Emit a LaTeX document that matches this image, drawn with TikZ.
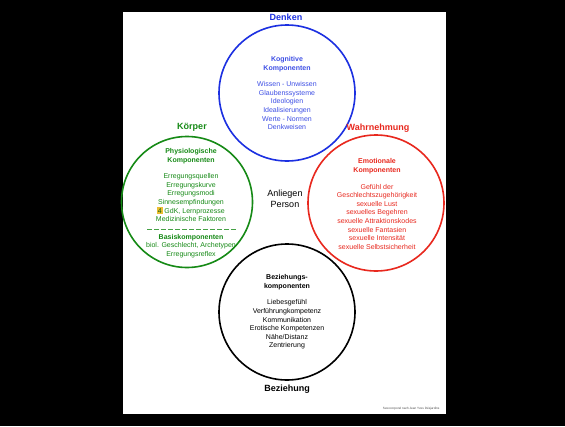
\documentclass[tikz,border=0pt]{standalone}
\usepackage{fontspec}
\setmainfont{Liberation Sans}
\usetikzlibrary{positioning}
\definecolor{denkblau}{RGB}{28,48,225}
\definecolor{koerpergruen}{RGB}{22,138,22}
\definecolor{wahrrot}{RGB}{232,40,30}
\definecolor{markgelb}{RGB}{236,190,50}
\tikzstyle{bereich} = [circle, 
minimum size=136pt, 
line width=1.6pt, 
draw]
\tikzstyle{inhalt} = [align=center, 
font=\fontsize{7}{8.6}\selectfont]
\tikzstyle{titel} = [font=\fontsize{9}{11}\selectfont\bfseries]

\begin{document}
\begin{tikzpicture}[x=1pt, y=-1pt]
            \fill[black] (0,0) rectangle (565,426);
            \fill[white] (123,12) rectangle (446,414);
            \useasboundingbox (0,0) rectangle (565,426);

            \node (denken) [bereich, draw=denkblau] at (287,93) {};
            \node (koerper) [bereich, draw=koerpergruen, minimum size=131pt] at (187,202) {};
            \node (wahrnehmung) [bereich, draw=wahrrot] at (376,203) {};
            \node (beziehung) [bereich, draw=black] at (287,312) {};

            \node (tdenken) [titel, text=denkblau] at (286,17) {Denken};
            \node (tkoerper) [titel, text=koerpergruen] at (192,127) {Körper};
            \node (twahr) [titel, text=wahrrot] at (378,128) {Wahrnehmung};
            \node (tbez) [titel, text=black] at (287,389) {Beziehung};

            \node (idenken) [inhalt, text=denkblau!85!white] at (denken) {\textbf{Kognitive}\\ \textbf{Komponenten}\\[8pt]
                Wissen - Unwissen\\ Glaubenssysteme\\ Ideologien\\ Idealisierungen\\ Werte - Normen\\ Denkweisen};
            \node (ikoerper) [inhalt, text=koerpergruen] at (191,185) {\textbf{Physiologische}\\ \textbf{Komponenten}\\[8pt]
                Erregungsquellen\\ Erregungskurve\\ Erregungsmodi\\ Sinnesempfindungen\\
                {\setlength{\fboxsep}{0.7pt}\colorbox{markgelb}{\textcolor{koerpergruen!70!black}{4}}} GdK, Lernprozesse\\ Medizinische Faktoren};
            \node (ibasis) [inhalt, text=koerpergruen] at (191,246) {\textbf{Basiskomponenten}\\ biol. Geschlecht, Archetypen\\ Erregungsreflex};
            \draw [koerpergruen!80!white, line width=0.6pt, dash pattern=on 4.5pt off 2.5pt] (147,229) -- (238,229);
            \node (iwahr) [inhalt, text=wahrrot] at (377,204) {\textbf{Emotionale}\\ \textbf{Komponenten}\\[8pt]
                Gefühl der\\ Geschlechtszugehörigkeit\\ sexuelle Lust\\ sexuelles Begehren\\ sexuelle Attraktionskodes\\
                sexuelle Fantasien\\ sexuelle Intensität\\ sexuelle Selbstsicherheit};
            \node (ibez) [inhalt, text=black] at (beziehung) {\textbf{Beziehungs-}\\ \textbf{komponenten}\\[8pt]
                Liebesgefühl\\ Verführungkompetenz\\ Kommunikation\\ Erotische Kompetenzen\\ Nähe/Distanz\\ Zentrierung};

            \node (anliegen) [align=center, font=\fontsize{9}{10.5}\selectfont] at (285,199) {Anliegen\\ Person};
            \node (quelle) [font=\fontsize{3.1}{4}\selectfont, text=black!70, anchor=east] at (443,409) {Sexocorporel nach Jean Yves Désjardins};
        \end{tikzpicture}
\end{document}
